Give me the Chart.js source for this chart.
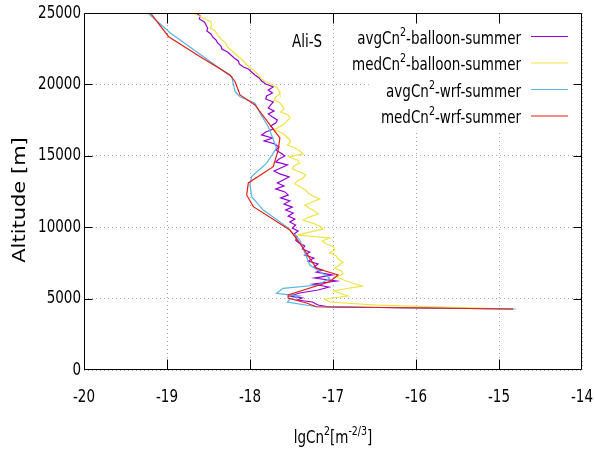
<!DOCTYPE html>
<html>
<head>
<meta charset="utf-8">
<script src="https://cdn.jsdelivr.net/npm/chart.js@4/dist/chart.umd.min.js"></script>
<style>
	html, body { margin: 0; padding: 0; background: #ffffff; }
	canvas { display: block; }
</style>
</head>
<body>
<canvas id="profile" width="595" height="454"></canvas>
<script>
// Balloon profiles: altitude [m] and lgCn2 [m^-2/3]
const avgBalloonAlt = [25000, 24790, 24580, 24370, 24160, 23950, 23740, 23530, 23320, 23110, 22900, 22690, 22480, 22270, 22060, 21850, 21640, 21430, 21220, 21080, 20870, 20660, 20450, 20240, 20030, 19820, 19610, 19400, 19190, 18980, 18770, 18560, 18350, 18140, 17930, 17720, 17510, 17300, 17090, 16880, 16670, 16460, 16250, 16040, 15830, 15620, 15410, 15200, 14990, 14780, 14570, 14360, 14150, 13940, 13730, 13520, 13310, 13100, 12890, 12680, 12470, 12260, 12050, 11840, 11620, 11410, 11200, 10990, 10780, 10570, 10360, 10150, 9940, 9730, 9520, 9310, 9100, 8890, 8680, 8470, 8260, 8050, 7840, 7630, 7420, 7210, 7000, 6860, 6650, 6440, 6230, 6020, 5810, 5600, 5390, 5180, 5040, 4900, 4760, 4550, 4410, 4270];
const avgBalloonCn2 = [-18.65, -18.60, -18.61, -18.55, -18.53, -18.51, -18.52, -18.47, -18.45, -18.41, -18.39, -18.35, -18.34, -18.27, -18.23, -18.19, -18.14, -18.13, -18.08, -18.02, -17.98, -17.94, -17.89, -17.86, -17.81, -17.72, -17.78, -17.73, -17.80, -17.81, -17.72, -17.75, -17.78, -17.71, -17.78, -17.73, -17.67, -17.69, -17.75, -17.72, -17.81, -17.86, -17.73, -17.83, -17.70, -17.65, -17.69, -17.63, -17.58, -17.65, -17.69, -17.55, -17.63, -17.71, -17.64, -17.53, -17.60, -17.67, -17.59, -17.69, -17.58, -17.54, -17.63, -17.52, -17.59, -17.49, -17.57, -17.48, -17.54, -17.46, -17.52, -17.45, -17.49, -17.42, -17.47, -17.43, -17.45, -17.41, -17.34, -17.37, -17.28, -17.34, -17.23, -17.30, -17.18, -17.23, -17.13, -17.20, -17.01, -17.22, -16.96, -17.24, -17.05, -17.18, -17.40, -17.52, -17.37, -17.43, -17.25, -17.18, -17.04, -14.83];

const medBalloonAlt = [25000, 24790, 24580, 24370, 24160, 23950, 23740, 23530, 23320, 23110, 22900, 22690, 22480, 22270, 22060, 21850, 21640, 21430, 21220, 21010, 20800, 20590, 20380, 20170, 19960, 19750, 19540, 19330, 19120, 18910, 18700, 18490, 18280, 18070, 17860, 17650, 17440, 17230, 17020, 16810, 16600, 16390, 16180, 15970, 15760, 15550, 15340, 15130, 14920, 14710, 14500, 14290, 14080, 13870, 13660, 13450, 13240, 13030, 12820, 12610, 12400, 12190, 11980, 11760, 11550, 11340, 11130, 10920, 10710, 10500, 10290, 10080, 9870, 9660, 9450, 9240, 9030, 8820, 8610, 8400, 8190, 7980, 7770, 7560, 7350, 7140, 6930, 6720, 6510, 6300, 6090, 5880, 5740, 5530, 5320, 5180, 4970, 4760, 4550, 4270];
const medBalloonCn2 = [-18.69, -18.61, -18.54, -18.47, -18.46, -18.48, -18.42, -18.40, -18.37, -18.34, -18.29, -18.28, -18.25, -18.20, -18.16, -18.12, -18.08, -18.05, -18.01, -17.96, -17.92, -17.89, -17.86, -17.80, -17.73, -17.67, -17.65, -17.64, -17.69, -17.71, -17.64, -17.61, -17.59, -17.63, -17.54, -17.52, -17.55, -17.59, -17.65, -17.71, -17.61, -17.57, -17.53, -17.51, -17.55, -17.46, -17.40, -17.36, -17.53, -17.43, -17.40, -17.47, -17.49, -17.40, -17.33, -17.36, -17.43, -17.46, -17.39, -17.33, -17.30, -17.24, -17.16, -17.25, -17.34, -17.29, -17.22, -17.18, -17.29, -17.36, -17.25, -17.16, -17.12, -17.28, -17.42, -17.04, -17.13, -17.08, -16.99, -16.98, -17.04, -16.96, -16.94, -16.88, -16.92, -16.98, -16.90, -16.88, -16.96, -16.87, -16.77, -16.65, -16.80, -16.99, -16.89, -16.82, -17.10, -17.04, -16.48, -14.83];

// WRF model profiles
const avgWrfAlt = [25000, 23600, 22060, 20520, 19490, 19140, 18680, 18000, 17040, 15550, 14480, 13540, 12960, 12140, 11200, 10040, 9100, 7350, 7120, 6420, 5950, 5720, 5370, 5180, 4970, 4760, 4430, 4270];
const avgWrfCn2 = [-19.23, -18.96, -18.59, -18.22, -18.18, -18.12, -17.94, -17.88, -17.78, -17.68, -17.80, -17.98, -18.00, -17.98, -17.84, -17.56, -17.40, -17.28, -17.22, -17.04, -17.18, -17.60, -17.68, -17.40, -17.52, -17.55, -17.20, -14.80];

const medWrfAlt = [25000, 23340, 21940, 20660, 20190, 19260, 18560, 17160, 16250, 15410, 14240, 13100, 12260, 11440, 9800, 8890, 7120, 6650, 6180, 5250, 5040, 4690, 4430, 4270];
const medWrfCn2 = [-19.20, -18.98, -18.60, -18.24, -18.18, -18.12, -17.94, -17.76, -17.64, -17.66, -17.72, -18.02, -18.04, -17.96, -17.52, -17.40, -17.20, -16.94, -17.04, -17.54, -17.54, -17.32, -17.20, -14.83];

const xTicks = [-20, -19, -18, -17, -16, -15, -14];
const yTicks = [0, 5000, 10000, 15000, 20000, 25000];

const seriesNames = [
	["avgCn", "-balloon-summer"],
	["medCn", "-balloon-summer"],
	["avgCn", "-wrf-summer"],
	["medCn", "-wrf-summer"]
];
const seriesColors = ["#9400d3", "#f0e442", "#56b4e9", "#e51e10"];

const FONT = '"DejaVu Sans", sans-serif';
const SX = 0.75; // narrow text, as in gnuplot output
const TXT = 18;

const toPoints = (alts, vals) => alts.map((a, i) => ({ x: vals[i], y: a }));

const fontOf = size => `${size}px ${FONT}`;

// draws text made of normal and superscript parts, baseline at y
const drawRich = (ctx, parts, x, y, size, align) => {
	const supSize = size * 0.7;
	const widthOf = p => {
		ctx.font = fontOf(p.sup ? supSize : size);
		return ctx.measureText(p.t).width * SX;
	};
	const total = parts.reduce((s, p) => s + widthOf(p), 0);
	let cx = align === "right" ? x - total : align === "center" ? x - total / 2 : x;
	parts.forEach(p => {
		const w = widthOf(p);
		ctx.save();
		ctx.translate(cx, p.sup ? y - size * 0.42 : y);
		ctx.scale(SX, 1);
		ctx.textAlign = "left";
		ctx.textBaseline = "alphabetic";
		ctx.fillText(p.t, 0, 0);
		ctx.restore();
		cx += w;
	});
};

const drawLabel = (ctx, text, x, y, size, align) => {
	ctx.save();
	ctx.translate(x, y);
	ctx.scale(SX, 1);
	ctx.font = fontOf(size);
	ctx.textAlign = align;
	ctx.textBaseline = "middle";
	ctx.fillText(text, 0, 0);
	ctx.restore();
};

const gnuFrame = {
	id: "gnuFrame",
	beforeDatasetsDraw(chart) {
		// opaque key area
		const { ctx, chartArea } = chart;
		ctx.save();
		ctx.fillStyle = "#ffffff";
		ctx.fillRect(372, chartArea.top, chartArea.right - 372, 118);
		ctx.restore();
	},
	afterDraw(chart) {
		const { ctx, chartArea } = chart;
		const xs = chart.scales.x;
		const ys = chart.scales.y;
		const L = Math.round(chartArea.left) + 0.5;
		const R = Math.round(chartArea.right) - 0.5;
		const T = Math.round(chartArea.top) + 0.5;
		const B = Math.round(chartArea.bottom) - 0.5;

		ctx.save();
		ctx.strokeStyle = "#000000";
		ctx.lineWidth = 1;
		ctx.beginPath();
		ctx.rect(L, T, R - L, B - T);
		// inward ticks on all four sides
		xTicks.slice(1, -1).forEach(v => {
			const px = Math.round(xs.getPixelForValue(v)) + 0.5;
			ctx.moveTo(px, B); ctx.lineTo(px, B - 10);
			ctx.moveTo(px, T); ctx.lineTo(px, T + 10);
		});
		yTicks.slice(1, -1).forEach(v => {
			const py = Math.round(ys.getPixelForValue(v)) + 0.5;
			ctx.moveTo(L, py); ctx.lineTo(L + 8, py);
			ctx.moveTo(R, py); ctx.lineTo(R - 8, py);
		});
		ctx.stroke();

		ctx.fillStyle = "#000000";
		xTicks.forEach(v => drawLabel(ctx, String(v), xs.getPixelForValue(v), 397, TXT, "center"));
		yTicks.forEach(v => drawLabel(ctx, String(v), 81, ys.getPixelForValue(v), TXT, "right"));

		// axis titles
		drawRich(ctx, [
			{ t: "lgCn" }, { t: "2", sup: true }, { t: "[m" }, { t: "-2/3", sup: true }, { t: "]" }
		], 333, 443, TXT, "center");

		ctx.save();
		ctx.translate(20, 200);
		ctx.rotate(-Math.PI / 2);
		ctx.scale(1, 0.85);
		ctx.font = fontOf(21);
		ctx.textAlign = "center";
		ctx.textBaseline = "middle";
		ctx.fillText("Altitude [m]", 0, 0);
		ctx.restore();

		drawLabel(ctx, "Ali-S", 307, 42, TXT, "center");

		// key
		seriesNames.forEach((name, i) => {
			const base = 43.5 + i * 26.5;
			ctx.fillStyle = "#000000";
			drawRich(ctx, [{ t: name[0] }, { t: "2", sup: true }, { t: name[1] }], 521, base, TXT, "right");
			ctx.strokeStyle = seriesColors[i];
			ctx.lineWidth = 1.2;
			ctx.beginPath();
			ctx.moveTo(531, base - 7);
			ctx.lineTo(568, base - 7);
			ctx.stroke();
		});
		ctx.restore();
	}
};

const gridStyle = { color: "#a8a8a8", lineWidth: 1, drawTicks: false };

const makeSet = (alts, vals, i) => ({
	label: seriesNames[i].join("2"),
	data: toPoints(alts, vals),
	showLine: true,
	borderColor: seriesColors[i],
	backgroundColor: seriesColors[i],
	borderWidth: 1.2,
	pointRadius: 0,
	tension: 0,
	fill: false,
	order: 3 - i
});

new Chart(document.getElementById("profile").getContext("2d"), {
	type: "scatter",
	data: {
		datasets: [
			makeSet(avgBalloonAlt, avgBalloonCn2, 0),
			makeSet(medBalloonAlt, medBalloonCn2, 1),
			makeSet(avgWrfAlt, avgWrfCn2, 2),
			makeSet(medWrfAlt, medWrfCn2, 3)
		]
	},
	options: {
		responsive: false,
		animation: false,
		layout: { padding: { top: 13, right: 13, left: 0, bottom: 0 } },
		plugins: { legend: { display: false }, tooltip: { enabled: false } },
		scales: {
			x: {
				type: "linear",
				min: xTicks[0],
				max: xTicks[xTicks.length - 1],
				ticks: { stepSize: 1, display: false },
				grid: gridStyle,
				border: { display: false, dash: [1, 3] },
				afterFit: scale => { scale.height = 84; }
			},
			y: {
				type: "linear",
				min: yTicks[0],
				max: yTicks[yTicks.length - 1],
				ticks: { stepSize: 5000, display: false },
				grid: gridStyle,
				border: { display: false, dash: [1, 3] },
				afterFit: scale => { scale.width = 84; }
			}
		}
	},
	plugins: [gnuFrame]
});
</script>
</body>
</html>
